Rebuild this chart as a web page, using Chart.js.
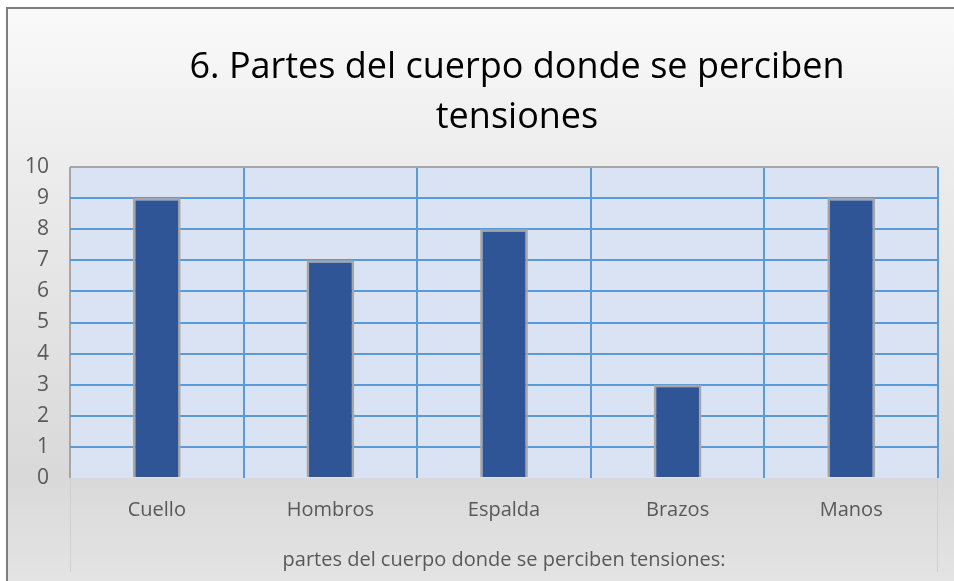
<!DOCTYPE html>
<html>
<head>
<meta charset="utf-8">
<title>Partes del cuerpo donde se perciben tensiones</title>
<script src="https://cdn.jsdelivr.net/npm/chart.js@4.4.1/dist/chart.umd.min.js"></script>
<style>
    html, body { margin: 0; padding: 0; background: #ffffff; }
    #wrap { width: 954px; height: 581px; }
</style>
</head>
<body>
<div id="wrap"><canvas id="myChart" width="954" height="581"></canvas></div>
<script>
// datos del gráfico
const categories = ['Cuello', 'Hombros', 'Espalda', 'Brazos', 'Manos'];
const values = [9, 7, 8, 3, 9];
const yTicks = [0, 1, 2, 3, 4, 5, 6, 7, 8, 9, 10];
const titleLines = ['6. Partes del cuerpo donde se perciben', 'tensiones'];
const axisTitle = 'partes del cuerpo donde se perciben tensiones:';

const BLUE_GRID = '#5b9bd5';
const GREY_EDGE = '#a6a6a6';
const FONT = '"Open Sans", "Noto Sans", sans-serif';

// fondo, marco exterior y título
const backgroundPlugin = {
    id: 'fondo',
    beforeDraw(chart) {
        const ctx = chart.ctx;
        const a = chart.chartArea;
        const w = chart.width, h = chart.height;
        ctx.save();
        ctx.fillStyle = '#ffffff';
        ctx.fillRect(0, 0, w, h);
        const g = ctx.createLinearGradient(0, 8, 0, h);
        g.addColorStop(0, '#fafafa');
        g.addColorStop(0.28, '#ececec');
        g.addColorStop(0.82, '#d9d9d9');
        g.addColorStop(1, '#e4e4e4');
        ctx.fillStyle = g;
        ctx.fillRect(7, 9, w - 7, h - 9);
        // marco exterior
        ctx.strokeStyle = '#7f7f7f';
        ctx.lineWidth = 2;
        ctx.beginPath();
        ctx.moveTo(7, h);
        ctx.lineTo(7, 8);
        ctx.lineTo(w, 8);
        ctx.stroke();
        // área del gráfico
        ctx.fillStyle = '#dae3f3';
        ctx.fillRect(a.left, a.top, a.right - a.left, a.bottom - a.top);
        // líneas suaves debajo del eje
        ctx.strokeStyle = '#cfcfcf';
        ctx.lineWidth = 1;
        ctx.beginPath();
        ctx.moveTo(a.left + 0.5, a.bottom);
        ctx.lineTo(a.left + 0.5, h - 9);
        ctx.moveTo(a.right - 0.5, a.bottom);
        ctx.lineTo(a.right - 0.5, h - 9);
        ctx.stroke();
        // título
        ctx.fillStyle = '#000000';
        ctx.font = '36px ' + FONT;
        ctx.textAlign = 'center';
        ctx.textBaseline = 'alphabetic';
        ctx.fillText(titleLines[0], 517, 78);
        ctx.fillText(titleLines[1], 517, 128);
        ctx.restore();
    }
};

const ctx = document.getElementById('myChart').getContext('2d');

new Chart(ctx, {
    type: 'bar',
    data: {
        labels: categories,
        datasets: [{
            label: axisTitle,
            data: values,
            backgroundColor: '#2f5597',
            borderColor: GREY_EDGE,
            borderWidth: 2.5,
            barPercentage: 0.275,
            categoryPercentage: 1
        }]
    },
    options: {
        responsive: false,
        animation: false,
        layout: {
            padding: { top: 167, left: 0, right: 16, bottom: 0 }
        },
        plugins: {
            legend: { display: false },
            title: { display: false },
            tooltip: { enabled: false }
        },
        scales: {
            x: {
                offset: true,
                border: { display: false },
                grid: {
                    offset: true,
                    drawTicks: false,
                    lineWidth: 2,
                    color: (c) => (c.index === 0 || c.index === categories.length) ? GREY_EDGE : BLUE_GRID
                },
                ticks: {
                    color: '#595959',
                    padding: 20,
                    font: { family: FONT, size: 20 }
                },
                title: {
                    display: true,
                    text: axisTitle,
                    color: '#595959',
                    font: { family: FONT, size: 20 },
                    padding: { top: 0, bottom: 9 }
                },
                afterFit: (scale) => { scale.height = 103; }
            },
            y: {
                min: yTicks[0],
                max: yTicks[yTicks.length - 1],
                border: { display: false },
                grid: {
                    drawTicks: false,
                    lineWidth: 2,
                    color: (c) => {
                        if (c.tick.value === yTicks[0]) return 'transparent';
                        if (c.tick.value === yTicks[yTicks.length - 1]) return GREY_EDGE;
                        return BLUE_GRID;
                    }
                },
                ticks: {
                    stepSize: 1,
                    color: '#595959',
                    padding: 21,
                    font: { family: FONT, size: 21 }
                },
                afterFit: (scale) => { scale.width = 70; }
            }
        }
    },
    plugins: [backgroundPlugin]
});
</script>
</body>
</html>
